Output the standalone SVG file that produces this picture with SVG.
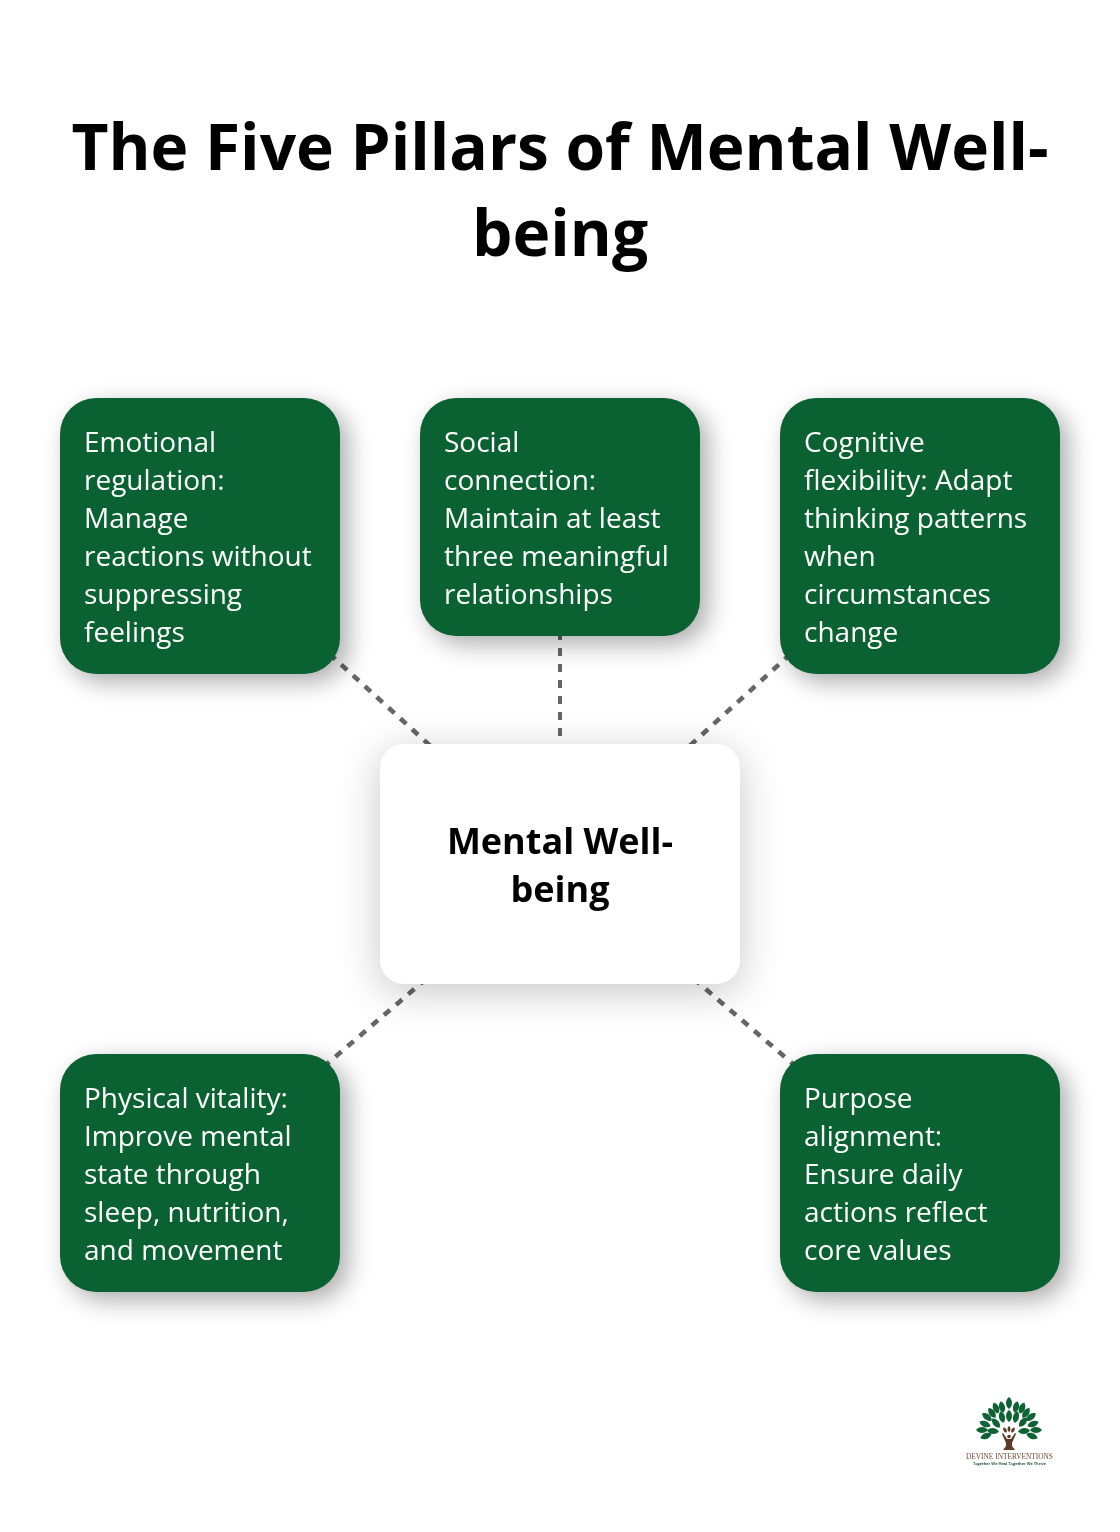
<svg xmlns="http://www.w3.org/2000/svg" width="1120" height="1532" viewBox="0 0 1120 1532">
<defs>
<style>
text{font-family:"Open Sans","Noto Sans","Liberation Sans",sans-serif;opacity:.999}
.t{font-size:64px;font-weight:700;fill:#000;text-anchor:middle}
.n{font-size:28px;fill:#fff}
.c{font-size:36px;font-weight:700;fill:#000;text-anchor:middle}
.g{fill:#0a6132;filter:url(#sg)}
.w{fill:#fff;filter:url(#sw)}
.l{stroke:#666;stroke-width:4;stroke-dasharray:8 8;fill:none}
.d{stroke-width:4.600}
.lf{fill:#0f6234}
.lb{fill:#5b3a26}
</style>
<filter id="sg" x="-30%" y="-30%" width="170%" height="170%" color-interpolation-filters="sRGB"><feDropShadow dx="8" dy="8" stdDeviation="12" flood-color="#000" flood-opacity="0.33"/></filter>
<filter id="sw" x="-30%" y="-30%" width="160%" height="160%" color-interpolation-filters="sRGB"><feDropShadow dx="0" dy="8" stdDeviation="20" flood-color="#000" flood-opacity="0.22"/></filter>
<path id="leaf" d="M0 6C-4 3-4-3 0-6C4-3 4 3 0 6Z"/>
</defs>
<rect width="1120" height="1532" fill="#fff"/>
<text class="t" x="560" y="170">The Five Pillars of Mental Well-</text>
<text class="t" x="560" y="256">being</text>
<g id="connectors">
<line class="l d" x1="560" y1="864" x2="200" y2="536"/>
<line class="l" x1="560" y1="864" x2="560" y2="517"/>
<line class="l d" x1="560" y1="864" x2="920" y2="536"/>
<line class="l d" x1="560" y1="864" x2="200" y2="1173"/>
<line class="l d" x1="560" y1="864" x2="920" y2="1173"/>
</g>
<g id="node-emotional"><rect class="g" x="60" y="398" width="280" height="276" rx="36"/>
<text class="n" x="84" y="452">Emotional</text><text class="n" x="84" y="490">regulation:</text><text class="n" x="84" y="528">Manage</text><text class="n" x="84" y="566">reactions without</text><text class="n" x="84" y="604">suppressing</text><text class="n" x="84" y="642">feelings</text></g>
<g id="node-social"><rect class="g" x="420" y="398" width="280" height="238" rx="36"/>
<text class="n" x="444" y="452">Social</text><text class="n" x="444" y="490">connection:</text><text class="n" x="444" y="528">Maintain at least</text><text class="n" x="444" y="566">three meaningful</text><text class="n" x="444" y="604">relationships</text></g>
<g id="node-cognitive"><rect class="g" x="780" y="398" width="280" height="276" rx="36"/>
<text class="n" x="804" y="452">Cognitive</text><text class="n" x="804" y="490">flexibility: Adapt</text><text class="n" x="804" y="528">thinking patterns</text><text class="n" x="804" y="566">when</text><text class="n" x="804" y="604">circumstances</text><text class="n" x="804" y="642">change</text></g>
<g id="node-center"><rect class="w" x="380" y="744" width="360" height="240" rx="24"/>
<text class="c" x="560" y="854">Mental Well-</text><text class="c" x="560" y="902">being</text></g>
<g id="node-physical"><rect class="g" x="60" y="1054" width="280" height="238" rx="36"/>
<text class="n" x="84" y="1108">Physical vitality:</text><text class="n" x="84" y="1146">Improve mental</text><text class="n" x="84" y="1184">state through</text><text class="n" x="84" y="1222">sleep, nutrition,</text><text class="n" x="84" y="1260">and movement</text></g>
<g id="node-purpose"><rect class="g" x="780" y="1054" width="280" height="238" rx="36"/>
<text class="n" x="804" y="1108">Purpose</text><text class="n" x="804" y="1146">alignment:</text><text class="n" x="804" y="1184">Ensure daily</text><text class="n" x="804" y="1222">actions reflect</text><text class="n" x="804" y="1260">core values</text></g>
<g id="logo">
<g class="lf">
<use href="#leaf" transform="translate(1009 1403)"/>
<use href="#leaf" transform="translate(1002 1407) rotate(-12)"/>
<use href="#leaf" transform="translate(1016 1407) rotate(12)"/>
<use href="#leaf" transform="translate(996 1408) rotate(-22)"/>
<use href="#leaf" transform="translate(1022 1408) rotate(22)"/>
<use href="#leaf" transform="translate(992 1413) rotate(-35)"/>
<use href="#leaf" transform="translate(1026 1413) rotate(35)"/>
<use href="#leaf" transform="translate(987 1417) rotate(-52)"/>
<use href="#leaf" transform="translate(1031 1417) rotate(52)"/>
<use href="#leaf" transform="translate(985 1424) rotate(-68)"/>
<use href="#leaf" transform="translate(1033 1424) rotate(68)"/>
<use href="#leaf" transform="translate(982 1430) rotate(-90)"/>
<use href="#leaf" transform="translate(1036 1430) rotate(90)"/>
<use href="#leaf" transform="translate(986 1436) rotate(-112)"/>
<use href="#leaf" transform="translate(1032 1436) rotate(112)"/>
<use href="#leaf" transform="translate(1009 1416)"/>
<use href="#leaf" transform="translate(1002 1417) rotate(-14)"/>
<use href="#leaf" transform="translate(1016 1417) rotate(14)"/>
<use href="#leaf" transform="translate(996 1423) rotate(-40)"/>
<use href="#leaf" transform="translate(1023 1422) rotate(40)"/>
<use href="#leaf" transform="translate(993 1431) rotate(-85)"/>
<use href="#leaf" transform="translate(1024 1431) rotate(85)"/>
</g>
<g class="lb">
<use href="#leaf" transform="translate(1009 1429) scale(.5)"/>
<use href="#leaf" transform="translate(1005 1430) rotate(-30) scale(.5)"/>
<use href="#leaf" transform="translate(1013 1430) rotate(30) scale(.5)"/>
<path d="M1003 1433L1007 1439L1011 1439L1015 1433L1016 1434L1012 1443L1012 1446L1015 1450L1003 1450L1006 1446L1006 1443L1002 1434Z"/>
<circle cx="1009" cy="1436.500" r="1.800"/>
</g>
<text x="1009.500" y="1459" font-size="7.350" text-anchor="middle" fill="#6b4a35" style="font-family:'Liberation Serif',serif">DEVINE INTERVENTIONS</text>
<text x="1009.500" y="1465" font-size="3.900" font-weight="700" text-anchor="middle" fill="#2d5a3e">Together We Heal Together We Thrive</text>
</g>
</svg>
